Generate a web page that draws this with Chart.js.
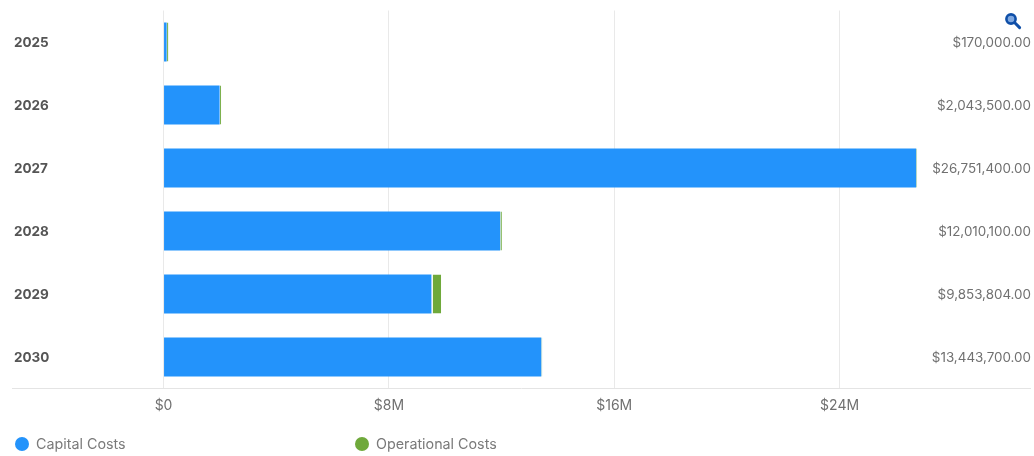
<!DOCTYPE html>
<html>
<head>
<meta charset="utf-8">
<title>Costs by year</title>
<script src="https://cdn.jsdelivr.net/npm/chart.js@4"></script>
<style>
  html, body { margin: 0; padding: 0; background: #fff; }
  #wrap { position: relative; width: 1034px; height: 456px; overflow: hidden; font-family: Inter, sans-serif; }
  #costChart { position: absolute; left: 0; top: 0; }
  #zoomIcon { position: absolute; left: 1004px; top: 12px; }
  .legend-item { position: absolute; top: 436px; display: flex; align-items: center; font-size: 14.3px; color: #7a7a7a; line-height: 16px; }
  .legend-dot { width: 14px; height: 14px; border-radius: 50%; margin-right: 7px; }
</style>
</head>
<body>
<div id="wrap">
  <canvas id="costChart" width="1034" height="456"></canvas>
  <svg id="zoomIcon" width="18" height="18" viewBox="0 0 18 18">
    <circle cx="7" cy="7" r="4.6" fill="#7fa8e0" stroke="#0f4fa8" stroke-width="2.6"/>
    <line x1="10.8" y1="10.8" x2="15.6" y2="15.6" stroke="#0f4fa8" stroke-width="3" stroke-linecap="round"/>
  </svg>
</div>
<script>
const years = ["2025", "2026", "2027", "2028", "2029", "2030"];
const capitalCosts = [110000, 1990000, 26718000, 11950000, 9510000, 13410000];
const operationalCosts = [60000, 53500, 33400, 60100, 343804, 33700];
const tickValues = [0, 8000000, 16000000, 24000000];

const capitalColor = "#2393fb";
const operationalColor = "#6fa93b";

const money = new Intl.NumberFormat("en-US", { style: "currency", currency: "USD" });
const totalLabels = years.map((y, i) => money.format(capitalCosts[i] + operationalCosts[i]));

const fontFamily = "Inter, sans-serif";

const chart = new Chart(document.getElementById("costChart"), {
  type: "bar",
  data: {
    labels: years,
    datasets: [
      {
        label: "Capital Costs",
        data: capitalCosts,
        backgroundColor: capitalColor,
        barPercentage: 0.62,
        categoryPercentage: 1,
      },
      {
        // white left edge keeps a gap between the two segments, thinner on the slivers
        label: "Operational Costs",
        data: operationalCosts,
        backgroundColor: operationalColor,
        borderColor: "#ffffff",
        borderWidth: (ctx) => ({ left: operationalCosts[ctx.dataIndex] > 100000 ? 1.5 : 0.5 }),
        borderSkipped: false,
        barPercentage: 0.62,
        categoryPercentage: 1,
      },
    ],
  },
  options: {
    indexAxis: "y",
    responsive: false,
    animation: false,
    layout: { padding: { left: 12, right: 4, top: 10.5, bottom: 0 } },
    plugins: {
      legend: { display: false },
      tooltip: { enabled: false },
    },
    scales: {
      x: {
        stacked: true,
        min: -5380000,
        max: 30760000,
        afterBuildTicks: (scale) => {
          scale.ticks = tickValues.map((v) => ({ value: v }));
        },
        afterFit: (scale) => {
          scale.height = 67.5;
        },
        grid: { color: "#e9e9e9", lineWidth: 1, tickLength: 0, drawTicks: false },
        border: { display: true, color: "#e4e4e4", width: 1 },
        ticks: {
          padding: 9,
          maxRotation: 0,
          autoSkip: false,
          color: "#707070",
          font: { family: fontFamily, size: 14 },
          callback: (v) => (v === 0 ? "$0" : "$" + v / 1000000 + "M"),
        },
      },
      y: {
        stacked: true,
        afterFit: (scale) => {
          scale.width = 0;
        },
        grid: { display: false },
        border: { display: false },
        ticks: {
          mirror: true,
          padding: 2,
          labelOffset: 1,
          color: "#555",
          font: { family: fontFamily, size: 13.5, weight: "bold" },
        },
      },
      // totals column on the right hand side
      yTotals: {
        type: "category",
        labels: totalLabels,
        position: "right",
        offset: true,
        afterFit: (scale) => {
          scale.width = 0;
        },
        grid: { display: false },
        border: { display: false },
        ticks: {
          mirror: true,
          padding: 1,
          labelOffset: 1,
          color: "#707070",
          font: { family: fontFamily, size: 13.4 },
        },
      },
    },
  },
});

// legend row sits below the chart, spaced wider than the built-in one allows
const legendLefts = [15, 355];
chart.data.datasets.forEach((ds, i) => {
  const item = document.createElement("div");
  item.className = "legend-item";
  item.style.left = legendLefts[i] + "px";
  const dot = document.createElement("span");
  dot.className = "legend-dot";
  dot.style.background = ds.backgroundColor;
  item.appendChild(dot);
  item.appendChild(document.createTextNode(ds.label));
  document.getElementById("wrap").appendChild(item);
});
</script>
</body>
</html>
